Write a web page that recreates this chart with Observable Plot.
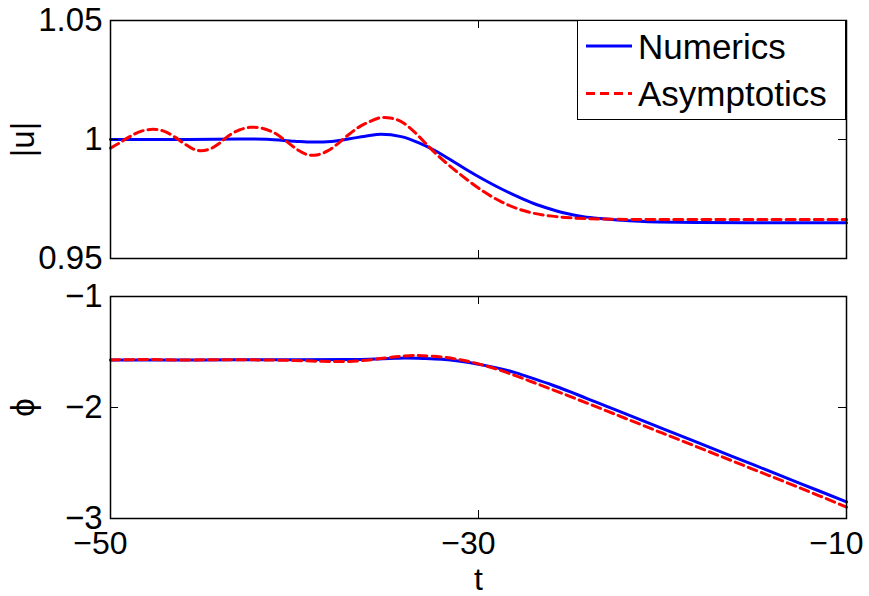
<!DOCTYPE html>
<html>
<head>
<meta charset="utf-8">
<script src="https://cdn.jsdelivr.net/npm/d3@7"></script>
<script src="https://cdn.jsdelivr.net/npm/@observablehq/plot@0.6"></script>
<style>
  body { margin: 0; background: #fff; }
  #wrap { position: relative; width: 869px; height: 596px; font-family: "Liberation Sans", Arial, sans-serif; }
  #wrap svg.plotpanel { position: absolute; left: 0; }
  #legend { position: absolute; left: 577px; top: 20px; width: 269px; height: 100px; box-sizing: border-box; border: 1.5px solid #000; background: #fff; }
</style>
</head>
<body>
<div id="wrap"></div>
<script>
// ---- data ----
const tTicks = [-50, -30, -10];
const uTicks = [0.95, 1, 1.05];
const phiTicks = [-3, -2, -1];

// top panel |u| : Numerics
const tUNum = [-50, -46, -43, -41.5, -40, -39, -38, -37, -36, -35.3, -34.2, -33.3, -32.4, -31.5, -30.6, -29.7, -28.8, -27.9, -27, -26.1, -25.2, -24.3, -23.4, -22.3, -21, -18, -14, -10];
const uNum  = [1.0000, 1.0000, 1.0002, 1.0001, 0.9993, 0.9989, 0.9992, 1.0003, 1.0016, 1.0022, 1.0012, 0.9988, 0.9955, 0.9914, 0.9871, 0.9831, 0.9794, 0.9761, 0.9731, 0.9708, 0.9689, 0.9676, 0.9668, 0.9661, 0.9655, 0.9651, 0.9650, 0.9650];
// top panel |u| : Asymptotics
const tUAsy = [-50, -49.5, -49, -48.5, -48, -47.5, -47, -46.5, -46, -45.5, -45.1, -44.6, -44.1, -43.6, -43, -42.4, -41.8, -41.1, -40.4, -39.8, -39.3, -38.8, -38.2, -37.6, -37.1, -36.5, -36, -35.3, -34.7, -34.2, -33.7, -33.2, -32.7, -32.2, -31.5, -30.6, -29.7, -28.8, -27.9, -27, -26, -25, -23.5, -21, -16, -10];
const uAsy  = [0.9964, 0.9986, 1.0010, 1.0030, 1.0041, 1.0042, 1.0032, 1.0010, 0.9983, 0.9960, 0.9953, 0.9960, 0.9983, 1.0015, 1.0040, 1.0051, 1.0048, 1.0028, 0.9990, 0.9955, 0.9936, 0.9935, 0.9952, 0.9985, 1.0018, 1.0052, 1.0072, 1.0092, 1.0089, 1.0075, 1.0047, 1.0010, 0.9970, 0.9932, 0.9885, 0.9830, 0.9780, 0.9740, 0.9710, 0.9690, 0.9678, 0.9671, 0.9666, 0.9664, 0.9664, 0.9664];

// bottom panel phi : Numerics
const tPNum = [-50, -45, -40, -37, -35.5, -34.5, -34, -33, -32, -31, -30, -29, -28, -27, -26, -25, -24, -23, -22, -20, -17.5, -15, -12.5, -10];
const phiNum = [-1.571, -1.571, -1.570, -1.568, -1.562, -1.556, -1.554, -1.558, -1.566, -1.584, -1.610, -1.643, -1.686, -1.740, -1.797, -1.860, -1.926, -1.992, -2.058, -2.190, -2.355, -2.520, -2.685, -2.850];
// bottom panel phi : Asymptotics
const tPAsy = [-50, -48, -46, -44, -42, -40, -38.5, -37.5, -36.5, -35.5, -34.5, -33.5, -33, -32, -31, -30, -29, -28, -27, -26, -25, -24, -23, -22, -20, -17.5, -15, -12.5, -10];
const phiAsy = [-1.571, -1.568, -1.572, -1.569, -1.571, -1.576, -1.584, -1.586, -1.580, -1.563, -1.543, -1.532, -1.534, -1.545, -1.570, -1.607, -1.655, -1.713, -1.775, -1.838, -1.902, -1.967, -2.033, -2.099, -2.231, -2.396, -2.561, -2.726, -2.897];

const legendItems = ["Numerics", "Asymptotics"];

// ---- build tables ----
const topNum = tUNum.map((t, i) => ({t, v: uNum[i]}));
const topAsy = tUAsy.map((t, i) => ({t, v: uAsy[i]}));
const botNum = tPNum.map((t, i) => ({t, v: phiNum[i]}));
const botAsy = tPAsy.map((t, i) => ({t, v: phiAsy[i]}));

const W = 869, ML = 110, MR = 23;
const plotW = W - ML - MR;
const fmt = d => (d < 0 ? "\u2212" + Math.abs(d) : String(d));
const FONT = "'Liberation Sans', Arial, sans-serif";
const TICKLEN = 8;
const blue = "#0000ff", red = "#ff0000";

function inwardTicks(yTicks, plotH) {
  return [
    Plot.tickY(yTicks, {y: d => d, insetRight: plotW - TICKLEN, stroke: "#000", strokeWidth: 1}),
    Plot.tickY(yTicks, {y: d => d, insetLeft: plotW - TICKLEN, stroke: "#000", strokeWidth: 1}),
    Plot.tickX(tTicks, {x: d => d, insetTop: plotH - TICKLEN, stroke: "#000", strokeWidth: 1}),
    Plot.tickX(tTicks, {x: d => d, insetBottom: plotH - TICKLEN, stroke: "#000", strokeWidth: 1})
  ];
}

// ---- top panel ----
const topH = 270, topMT = 20, topMB = 12;
const topPlot = Plot.plot({
  width: W, height: topH,
  marginLeft: ML, marginRight: MR, marginTop: topMT, marginBottom: topMB,
  style: {fontFamily: FONT, background: "transparent", overflow: "visible"},
  x: {domain: [-50, -10], axis: null},
  y: {domain: [0.95, 1.05]},
  marks: [
    Plot.line(topNum, {x: "t", y: "v", stroke: blue, strokeWidth: 3, curve: "catmull-rom"}),
    Plot.line(topAsy, {x: "t", y: "v", stroke: red, strokeWidth: 3, strokeDasharray: "9,5", curve: "catmull-rom"}),
    Plot.axisY(uTicks, {tickSize: 0, tickPadding: 8, tickFormat: fmt, fontSize: 33,
      label: "|u|", labelAnchor: "center", labelOffset: 100, labelArrow: "none"}),
    ...inwardTicks(uTicks, topH - topMT - topMB),
    Plot.frame({stroke: "#000", strokeWidth: 1.5})
  ]
});
topPlot.classList.add("plotpanel");
topPlot.style.top = "0px";

// ---- bottom panel ----
const botH = 326, botMT = 26, botMB = 78;
const botPlot = Plot.plot({
  width: W, height: botH,
  marginLeft: ML, marginRight: MR, marginTop: botMT, marginBottom: botMB,
  style: {fontFamily: FONT, background: "transparent", overflow: "visible"},
  x: {domain: [-50, -10]},
  y: {domain: [-3, -1]},
  marks: [
    Plot.line(botNum, {x: "t", y: "v", stroke: blue, strokeWidth: 3, curve: "catmull-rom"}),
    Plot.line(botAsy, {x: "t", y: "v", stroke: red, strokeWidth: 3, strokeDasharray: "9,5", curve: "catmull-rom"}),
    Plot.axisY(phiTicks, {tickSize: 0, tickPadding: 8, tickFormat: fmt, fontSize: 33,
      label: "\u03D5", labelAnchor: "center", labelOffset: 100, labelArrow: "none"}),
    Plot.axisX(tTicks, {tickSize: 0, tickPadding: 13, tickFormat: fmt, fontSize: 32, dx: -10,
      label: "t", labelAnchor: "center", labelOffset: 71, labelArrow: "none"}),
    ...inwardTicks(phiTicks, botH - botMT - botMB),
    Plot.frame({stroke: "#000", strokeWidth: 1.5})
  ]
});
botPlot.classList.add("plotpanel");
botPlot.style.top = topH + "px";

const wrap = document.getElementById("wrap");
wrap.appendChild(topPlot);
wrap.appendChild(botPlot);

// ---- legend ----
const legend = document.createElement("div");
legend.id = "legend";
const ns = "http://www.w3.org/2000/svg";
const lsvg = document.createElementNS(ns, "svg");
lsvg.setAttribute("width", "266");
lsvg.setAttribute("height", "97");
legendItems.forEach((name, i) => {
  const yLine = 25 + i * 47.5;
  const ln = document.createElementNS(ns, "line");
  ln.setAttribute("x1", 8); ln.setAttribute("x2", 54);
  ln.setAttribute("y1", yLine); ln.setAttribute("y2", yLine);
  ln.setAttribute("stroke", i === 0 ? blue : red);
  ln.setAttribute("stroke-width", 3);
  if (i === 1) ln.setAttribute("stroke-dasharray", "9,5");
  lsvg.appendChild(ln);
  const tx = document.createElementNS(ns, "text");
  tx.setAttribute("x", 60);
  tx.setAttribute("y", yLine + 12.5);
  tx.setAttribute("font-size", 35);
  tx.setAttribute("font-family", FONT);
  tx.setAttribute("fill", "#000");
  tx.textContent = name;
  lsvg.appendChild(tx);
});
legend.appendChild(lsvg);
wrap.appendChild(legend);
</script>
</body>
</html>
